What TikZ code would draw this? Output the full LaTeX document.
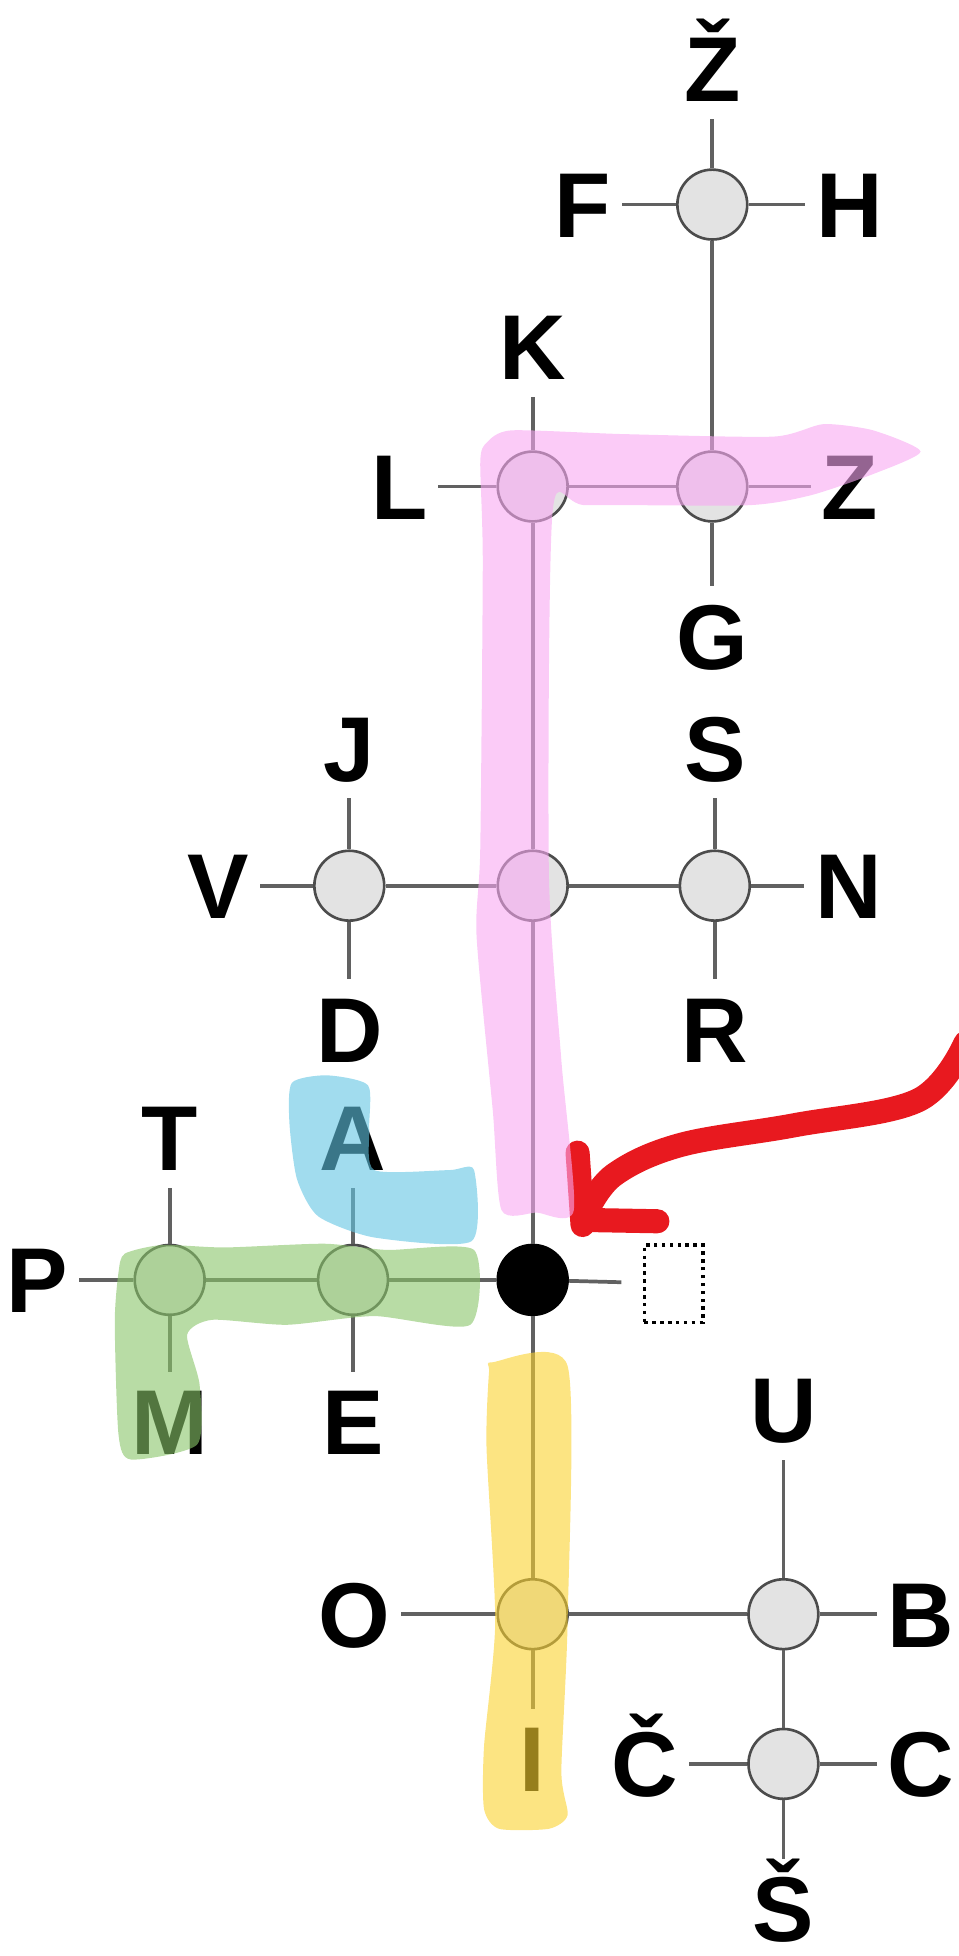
\documentclass[tikz,border=0pt]{standalone}
\usepackage{fontspec}
\setmainfont{Liberation Sans}
\usepackage{xcolor}
\usetikzlibrary{calc}
\definecolor{hlpink}{RGB}{248,168,242}
\definecolor{hlcyan}{RGB}{98,197,227}
\definecolor{hlgreen}{RGB}{137,197,105}
\definecolor{hlyellow}{RGB}{250,210,47}
\definecolor{penred}{RGB}{232,25,31}
\tikzset{
	dot/.style={circle, draw=black!70, fill=black!11, minimum size=0.56cm, inner sep=0pt, line width=0.6pt},
	blackdot/.style={dot, fill=black, draw=black},
	lbl/.style={font=\bfseries\fontsize{21}{21}\selectfont, text height=15pt, text depth=0pt, inner xsep=0.08cm, inner ysep=0.13cm},
	wire/.style={draw=black!62, line width=0.85pt},
	marker/.style={fill opacity=0.6, draw=none}
}
\begin{document}
\begin{tikzpicture}
			\useasboundingbox (0,0) rectangle (7.68,-15.68);

			% Junction circles
			\node[dot] (top) at (5.71,-1.64) {};
			\node[dot] (kl) at (4.27,-3.90) {};
			\node[dot] (zg) at (5.71,-3.90) {};
			\node[dot] (vd) at (2.80,-7.10) {};
			\node[dot] (mid) at (4.27,-7.10) {};
			\node[dot] (sn) at (5.73,-7.10) {};
			\node[blackdot] (blk) at (4.27,-10.26) {};
			\node[dot] (pt) at (1.36,-10.26) {};
			\node[dot] (ae) at (2.83,-10.26) {};
			\node[dot] (oi) at (4.27,-12.94) {};
			\node[dot] (ub) at (6.28,-12.94) {};
			\node[dot] (cc) at (6.28,-14.14) {};
			\node[draw, densely dotted, line width=0.8pt, minimum width=0.47cm, minimum height=0.62cm, inner sep=0pt] (box) at (5.40,-10.29) {};

			% Letters
			\node[lbl] (lZh) at (5.71,-0.55) {Ž};
			\node[lbl] (lF) at (4.67,-1.64) {F};
			\node[lbl] (lH) at (6.81,-1.64) {H};
			\node[lbl] (lK) at (4.27,-2.78) {K};
			\node[lbl] (lL) at (3.20,-3.90) {L};
			\node[lbl] (lZ) at (6.81,-3.90) {Z};
			\node[lbl] (lG) at (5.71,-5.10) {G};
			\node[lbl] (lJ) at (2.80,-6.00) {J};
			\node[lbl] (lV) at (1.75,-7.10) {V};
			\node[lbl] (lD) at (2.80,-8.25) {D};
			\node[lbl] (lS) at (5.73,-6.00) {S};
			\node[lbl] (lN) at (6.80,-7.10) {N};
			\node[lbl] (lR) at (5.73,-8.25) {R};
			\node[lbl] (lT) at (1.36,-9.12) {T};
			\node[lbl] (lP) at (0.30,-10.26) {P};
			\node[lbl] (lM) at (1.36,-11.40) {M};
			\node[lbl] (lA) at (2.83,-9.12) {A};
			\node[lbl] (lE) at (2.83,-11.40) {E};
			\node[lbl] (lO) at (2.84,-12.94) {O};
			\node[lbl] (lI) at (4.27,-14.10) {I};
			\node[lbl] (lU) at (6.28,-11.30) {U};
			\node[lbl] (lB) at (7.38,-12.94) {B};
			\node[lbl] (lCh) at (5.17,-14.14) {Č};
			\node[lbl] (lC) at (7.38,-14.14) {C};
			\node[lbl] (lSh) at (6.28,-15.30) {Š};

			% Lines
			\draw[wire] (top) -- (lZh);
			\draw[wire] (top) -- (lF);
			\draw[wire] (top) -- (lH);
			\draw[wire] (top) -- (zg);
			\draw[wire] (kl) -- (lK);
			\draw[wire] (kl) -- (lL);
			\draw[wire] (kl) -- (zg);
			\draw[wire] (kl) -- (mid);
			\draw[wire] (zg) -- (lZ);
			\draw[wire] (zg) -- (lG);
			\draw[wire] (vd) -- (lJ);
			\draw[wire] (vd) -- (lV);
			\draw[wire] (vd) -- (lD);
			\draw[wire] (vd) -- (mid);
			\draw[wire] (mid) -- (sn);
			\draw[wire] (mid) -- (blk);
			\draw[wire] (sn) -- (lS);
			\draw[wire] (sn) -- (lN);
			\draw[wire] (sn) -- (lR);
			\draw[wire] (blk) -- (ae);
			\draw[wire] (blk) -- (oi);
			\draw[wire, shorten >=0.17cm] (blk) -- (box);
			\draw[wire] (pt) -- (lT);
			\draw[wire] (pt) -- (lP);
			\draw[wire] (pt) -- (lM);
			\draw[wire] (pt) -- (ae);
			\draw[wire] (ae) -- (lA);
			\draw[wire] (ae) -- (lE);
			\draw[wire] (oi) -- (lO);
			\draw[wire] (oi) -- (lI);
			\draw[wire] (oi) -- (ub);
			\draw[wire] (ub) -- (lU);
			\draw[wire] (ub) -- (lB);
			\draw[wire] (ub) -- (cc);
			\draw[wire] (cc) -- (lCh);
			\draw[wire] (cc) -- (lC);
			\draw[wire] (cc) -- (lSh);

			% Red pen arrow
			\draw[penred, line width=5.5pt, line cap=round, line join=round] plot[smooth, tension=0.6] coordinates {(7.74,-8.36) (7.36,-8.82) (6.37,-9.02) (5.45,-9.18) (4.92,-9.42) (4.70,-9.72)};
			\draw[penred, line width=5.5pt, line cap=round] (4.63,-9.24) -- (4.67,-9.82);
			\draw[penred, line width=5.5pt, line cap=round] (4.72,-9.78) -- (5.27,-9.79);

			% Highlighter strokes
			\fill[hlpink, marker] plot[smooth cycle, tension=0.4] coordinates {(3.90,-3.55) (4.10,-3.45) (5.00,-3.48) (6.20,-3.50) (6.60,-3.40) (7.00,-3.45) (7.38,-3.62) (7.00,-3.80) (6.50,-3.97) (6.00,-4.05) (4.70,-4.05) (4.43,-4.10) (4.40,-7.00) (4.50,-8.50) (4.60,-9.70) (4.30,-9.72) (4.02,-9.70) (3.95,-8.90) (3.82,-7.50) (3.85,-6.80) (3.87,-4.50) (3.85,-3.70)};
			\fill[hlcyan, marker] plot[smooth cycle, tension=0.4] coordinates {(2.34,-8.68) (2.62,-8.62) (2.95,-8.70) (2.96,-9.05) (3.00,-9.38) (3.60,-9.38) (3.80,-9.38) (3.78,-9.95) (3.00,-9.92) (2.55,-9.75) (2.38,-9.45) (2.32,-9.00)};
			\fill[hlgreen, marker] plot[smooth cycle, tension=0.4] coordinates {(1.00,-10.05) (1.30,-9.98) (1.80,-10.00) (2.60,-9.97) (3.10,-10.02) (3.80,-10.02) (3.77,-10.62) (3.00,-10.55) (2.30,-10.62) (1.70,-10.58) (1.50,-10.70) (1.60,-11.10) (1.58,-11.58) (1.05,-11.70) (0.95,-11.50) (0.92,-10.60) (0.95,-10.20)};
			\fill[hlyellow, marker] plot[smooth cycle, tension=0.4] coordinates {(3.95,-10.92) (4.55,-10.95) (4.55,-13.00) (4.50,-14.20) (4.55,-14.55) (4.40,-14.66) (4.00,-14.66) (3.88,-14.50) (3.88,-14.00) (3.97,-13.00) (3.90,-11.60) (3.92,-11.00)};
		\end{tikzpicture}
\end{document}
